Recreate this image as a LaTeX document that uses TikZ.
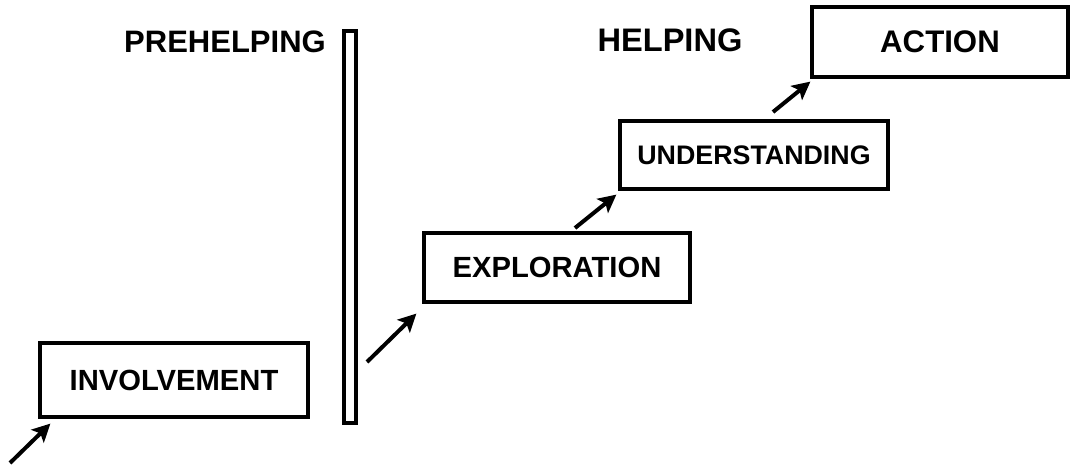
\documentclass[tikz,border=0pt]{standalone}
\usepackage{fontspec}
\setmainfont{Liberation Sans}
\usepackage{tikz}
\usetikzlibrary{calc}
\usetikzlibrary{arrows.meta}

\begin{document}
\begin{tikzpicture}[x=0.5pt,y=-0.5pt,
        stage/.style={draw,line width=1.6pt,inner sep=0pt,font=\bfseries\fontsize{14.6}{16}\selectfont},
        rise/.style={line width=2pt,-{Stealth[length=9pt,width=9pt,inset=2pt]}},
        divider/.style={draw,line width=2pt,inner sep=0pt,minimum width=6pt,minimum height=196pt},
        phase/.style={font=\bfseries\fontsize{15.5}{17}\selectfont}]
        \useasboundingbox (0,0) rectangle (1084,467);
        \node[stage,minimum width=134pt,minimum height=37pt] (inv) at (174,380) {INVOLVEMENT};
        \node[stage,minimum width=133pt,minimum height=34.5pt] (expl) at (557,267.5) {EXPLORATION};
        \node[stage,minimum width=134pt,minimum height=34pt,font=\bfseries\fontsize{13.4}{15}\selectfont] (und) at (754,155) {UNDERSTANDING};
        \node[stage,minimum width=128pt,minimum height=35pt,font=\bfseries\fontsize{15.6}{17}\selectfont] (act) at (940,42) {ACTION};
        \node[divider] (bar) at (350,227) {};
        \node[phase] (pre) at (225,42) {PREHELPING};
        \node[phase,font=\bfseries\fontsize{16.3}{18}\selectfont] (help) at (670,40) {HELPING};
        % arrows up the steps
        \coordinate (t0) at (10,463);
        \coordinate (t1) at (367,362);
        \coordinate (t2) at (575,228);
        \coordinate (t3) at (773,112);
        \draw[rise] (t0) -- ($(inv.south west)+(12,5)$);
        \draw[rise] (t1) -- ($(expl.south west)+(-6,10)$);
        \draw[rise] (t2) -- ($(und.south west)+(-2,4)$);
        \draw[rise] (t3) -- ($(act.south west)+(0,3)$);
    \end{tikzpicture}
\end{document}
